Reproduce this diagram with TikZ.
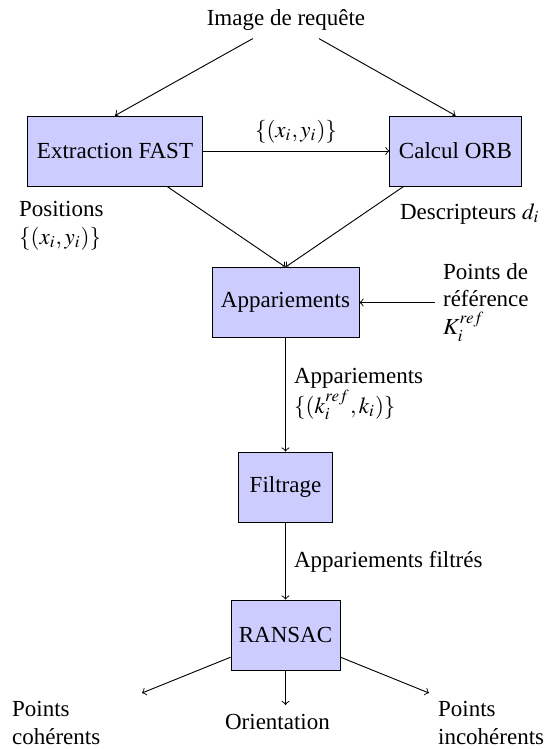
\documentclass[tikz,border=0pt]{standalone}
\usepackage{mathptmx}
\usepackage[no-math]{fontspec}
\setmainfont{Liberation Serif}
\begin{document}
\begin{tikzpicture}[x=0.4348pt,y=-0.4348pt,
  box/.style={draw=black,fill=blue!20,minimum height=30.4pt,inner sep=3.33pt,align=center},
  lbl/.style={inner sep=3.33pt,align=left},
  arr/.style={->,line width=0.4pt}]
\useasboundingbox (0,0) rectangle (546,749);
\node (img) at (286,20) {Image de requête};
\node[box,minimum width=75.7pt] (fast) at (115,151) {Extraction FAST};
\node[box,minimum width=57pt] (orb) at (455.5,151) {Calcul ORB};
\node[box,minimum width=63.9pt] (app) at (285.5,302.5) {Appariements};
\node[box,minimum width=40.9pt] (filt) at (285.5,487) {Filtrage};
\node[box,minimum width=47.4pt] (ransac) at (285.5,635) {RANSAC};

\node[lbl,anchor=west] (pos) at (11,226) {Positions\\$\{(x_i,y_i)\}$};
\node[lbl,anchor=west] (desc) at (392,214) {Descripteurs $d_i$};
\node[lbl,anchor=west] (ref) at (435,302.5) {Points de\\référence\\$K_i^{ref}$};
\node[lbl,anchor=west] (appl) at (286,394) {Appariements\\$\{(k_i^{ref},k_i)\}$};
\node[lbl,anchor=west] (filtl) at (286,562) {Appariements filtrés};
\node[lbl,anchor=west] (coh) at (4,723) {Points\\cohérents};
\node[lbl,anchor=west] (incoh) at (430,723) {Points\\incohérents};
\node[lbl] (orient) at (277.5,722) {Orientation};

\coordinate (cl) at (142,693);
\coordinate (cm) at (285.5,705);
\coordinate (cr) at (429,693);

\draw[arr] (img) -- (fast.north);
\draw[arr] (img) -- (orb.north);
\draw[arr] (fast) -- node[above,inner sep=3.33pt] {$\{(x_i,y_i)\}$} (orb);
\draw[arr] (fast) -- (app.north);
\draw[arr] (orb) -- (app.north);
\draw[arr] (ref.west) -- (app.east);
\draw[arr] (app) -- (filt);
\draw[arr] (filt) -- (ransac);
\draw[arr] (ransac) -- (cl);
\draw[arr] (ransac) -- (cm);
\draw[arr] (ransac) -- (cr);
\end{tikzpicture}
\end{document}
